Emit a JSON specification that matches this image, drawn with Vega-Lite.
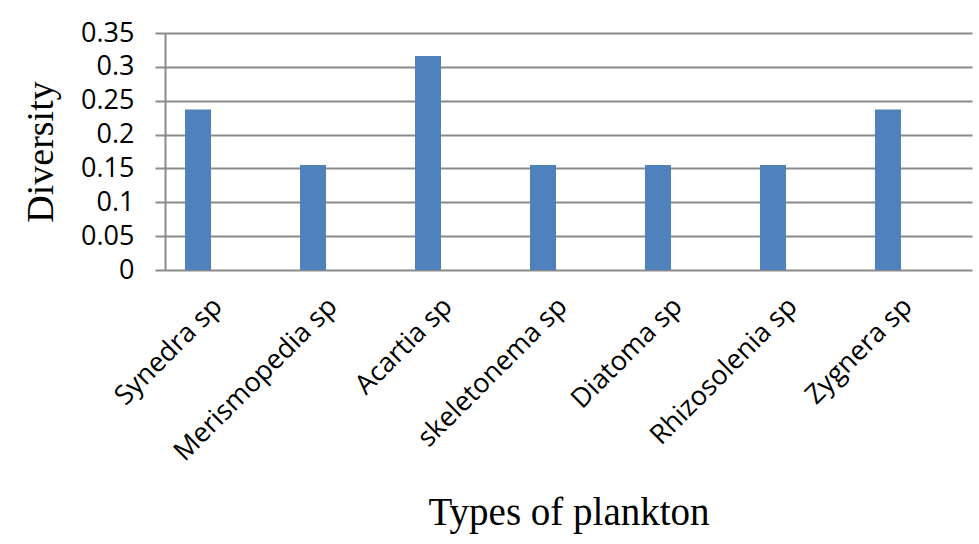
{
  "$schema": "https://vega.github.io/schema/vega-lite/v6.json",
  "width": 807,
  "height": 237,
  "autosize": "none",
  "padding": {"left": 165, "top": 33, "right": 7, "bottom": 274},
  "background": "white",
  "data": {
    "values": [
      {"type": "Synedra sp", "diversity": 0.237},
      {"type": "Merismopedia sp", "diversity": 0.155},
      {"type": "Acartia sp", "diversity": 0.316},
      {"type": "skeletonema sp", "diversity": 0.155},
      {"type": "Diatoma sp", "diversity": 0.155},
      {"type": "Rhizosolenia sp", "diversity": 0.155},
      {"type": "Zygnera sp", "diversity": 0.237}
    ]
  },
  "mark": {"type": "bar", "color": "#4F81BD"},
  "encoding": {
    "x": {
      "field": "type",
      "type": "nominal",
      "sort": null,
      "scale": {"paddingInner": 0.774, "paddingOuter": 0.396, "align": 0.22},
      "axis": {
        "title": "Types of plankton",
        "titleFont": "Liberation Serif",
        "titleFontSize": 39,
        "titleFontWeight": "normal",
        "titleColor": "#000000",
        "titlePadding": 28,
        "labelAngle": -45,
        "labelAlign": "right",
        "labelBaseline": "middle",
        "labelOffset": 20,
        "labelPadding": 32,
        "labelLimit": 0,
        "labelFont": "Open Sans",
        "labelFontSize": 27,
        "labelColor": "#000000",
        "domain": false,
        "ticks": false,
        "grid": false
      }
    },
    "y": {
      "field": "diversity",
      "type": "quantitative",
      "scale": {"domain": [0, 0.35], "nice": false},
      "axis": {
        "title": "Diversity",
        "titleFont": "Liberation Serif",
        "titleFontSize": 38,
        "titleFontWeight": "normal",
        "titleColor": "#000000",
        "titlePadding": 20,
        "values": [0, 0.05, 0.1, 0.15, 0.2, 0.25, 0.3, 0.35],
        "format": "",
        "labelFont": "Open Sans",
        "labelFontSize": 27,
        "labelColor": "#000000",
        "labelPadding": 21,
        "tickSize": 10,
        "tickColor": "#8A8A8A",
        "tickWidth": 2,
        "domainColor": "#8A8A8A",
        "domainWidth": 2,
        "gridColor": "#8A8A8A",
        "gridWidth": 2,
        "grid": true
      }
    }
  },
  "config": {"view": {"stroke": null}}
}
